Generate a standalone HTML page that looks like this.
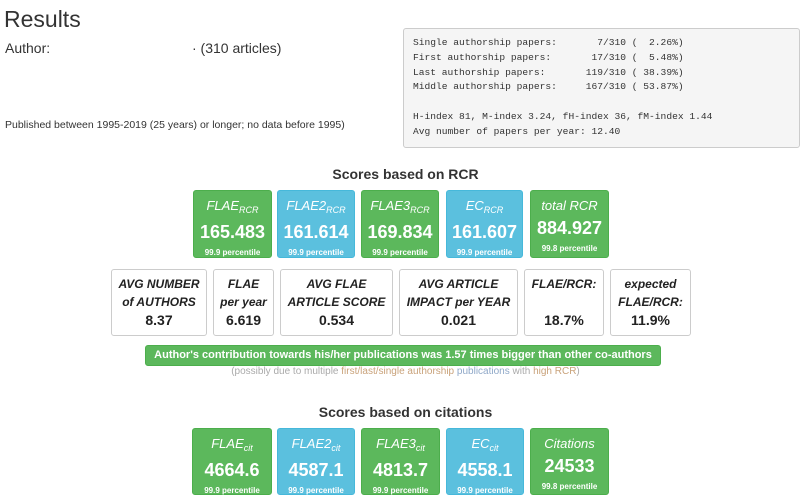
<!DOCTYPE html>
<html><head><meta charset="utf-8"><style>
body{margin:0;width:811px;height:501px;background:#fff;font-family:"Liberation Sans",sans-serif;color:#333;position:relative;overflow:hidden}
.a{position:absolute}
.t{position:absolute;text-align:center;color:#fff;border-radius:3px;box-sizing:border-box}
.g{background:#5cb85c;border:1px solid #4cae4c}.b{background:#5bc0de;border:1px solid #46b8da}
.t .n{font-style:italic;font-size:13px;margin-top:8px;line-height:14px}
.t .n sub{font-size:9px;vertical-align:-3px}
.t .v{font-weight:bold;font-size:18px;margin-top:5px;line-height:20px}
.t .p{font-weight:bold;font-size:8px;margin-top:6px}
.w{position:absolute;border:1px solid #ccc;border-radius:3px;text-align:center;box-sizing:border-box;font-size:12px;color:#222}
.w .l{font-weight:bold;font-style:italic;line-height:18px;margin-top:5px}
.w .x{font-weight:bold;font-size:14px;position:absolute;bottom:7px;left:0;right:0}
h3{position:absolute;margin:0;font-size:14px;font-weight:bold;left:0;width:811px;text-align:center;color:#333}
pre{position:absolute;left:403px;top:28px;width:397px;height:120px;margin:0;box-sizing:border-box;background:#f5f5f5;border:1px solid #ccc;border-radius:3px;font-family:"Liberation Mono",monospace;font-size:9.6px;line-height:14.8px;padding:7px 9px;color:#333}
</style></head><body>
<div class="a" style="left:4px;top:6px;font-size:23px;color:#333">Results</div>
<div class="a" style="left:5px;top:40px;font-size:14px">Author:<span style="position:absolute;left:187px;white-space:nowrap">· (310 articles)</span></div>
<div class="a" style="left:5px;top:119px;font-size:10.5px;white-space:nowrap">Published between 1995-2019 (25 years) or longer; no data before 1995)</div>
<pre>Single authorship papers:       7/310 (  2.26%)
First authorship papers:       17/310 (  5.48%)
Last authorship papers:       119/310 ( 38.39%)
Middle authorship papers:     167/310 ( 53.87%)

H-index 81, M-index 3.24, fH-index 36, fM-index 1.44
Avg number of papers per year: 12.40</pre>

<h3 style="top:166px">Scores based on RCR</h3>
<div class="t g" style="left:193px;top:190px;width:79px;height:68px"><div class="n">FLAE<sub>RCR</sub></div><div class="v">165.483</div><div class="p">99.9 percentile</div></div>
<div class="t b" style="left:277px;top:190px;width:78px;height:68px"><div class="n">FLAE2<sub>RCR</sub></div><div class="v">161.614</div><div class="p">99.9 percentile</div></div>
<div class="t g" style="left:361px;top:190px;width:78px;height:68px"><div class="n">FLAE3<sub>RCR</sub></div><div class="v">169.834</div><div class="p">99.9 percentile</div></div>
<div class="t b" style="left:446px;top:190px;width:77px;height:68px"><div class="n">EC<sub>RCR</sub></div><div class="v">161.607</div><div class="p">99.9 percentile</div></div>
<div class="t g" style="left:530px;top:190px;width:79px;height:68px"><div class="n">total RCR</div><div class="v">884.927</div><div class="p">99.8 percentile</div></div>

<div class="w" style="left:111px;top:269px;width:96px;height:67px"><div class="l">AVG NUMBER<br>of AUTHORS</div><div class="x">8.37</div></div>
<div class="w" style="left:213px;top:269px;width:61px;height:67px"><div class="l">FLAE<br>per year</div><div class="x">6.619</div></div>
<div class="w" style="left:280px;top:269px;width:113px;height:67px"><div class="l">AVG FLAE<br>ARTICLE SCORE</div><div class="x">0.534</div></div>
<div class="w" style="left:399px;top:269px;width:119px;height:67px"><div class="l">AVG ARTICLE<br>IMPACT per YEAR</div><div class="x">0.021</div></div>
<div class="w" style="left:524px;top:269px;width:80px;height:67px"><div class="l">FLAE/RCR:</div><div class="x">18.7%</div></div>
<div class="w" style="left:610px;top:269px;width:81px;height:67px"><div class="l">expected<br>FLAE/RCR:</div><div class="x">11.9%</div></div>

<div class="t g" style="left:145px;top:345px;width:516px;height:21px;font-weight:bold;font-size:11px;line-height:19px">Author's contribution towards his/her publications was 1.57 times bigger than other co-authors</div>
<div class="a" style="left:0;width:811px;text-align:center;top:366px;font-size:10px;color:#aaa">(possibly due to multiple <span style="color:#c9a27a">first/last/single authorship</span> <span style="color:#8fa8c8">publications</span> with <span style="color:#c9a27a">high RCR</span>)</div>

<h3 style="top:404px">Scores based on citations</h3>
<div class="t g" style="left:192px;top:428px;width:80px;height:67px"><div class="n">FLAE<sub>cit</sub></div><div class="v">4664.6</div><div class="p">99.9 percentile</div></div>
<div class="t b" style="left:277px;top:428px;width:78px;height:67px"><div class="n">FLAE2<sub>cit</sub></div><div class="v">4587.1</div><div class="p">99.9 percentile</div></div>
<div class="t g" style="left:361px;top:428px;width:79px;height:67px"><div class="n">FLAE3<sub>cit</sub></div><div class="v">4813.7</div><div class="p">99.9 percentile</div></div>
<div class="t b" style="left:446px;top:428px;width:78px;height:67px"><div class="n">EC<sub>cit</sub></div><div class="v">4558.1</div><div class="p">99.9 percentile</div></div>
<div class="t g" style="left:530px;top:428px;width:79px;height:67px"><div class="n">Citations</div><div class="v">24533</div><div class="p">99.8 percentile</div></div>
</body></html>
